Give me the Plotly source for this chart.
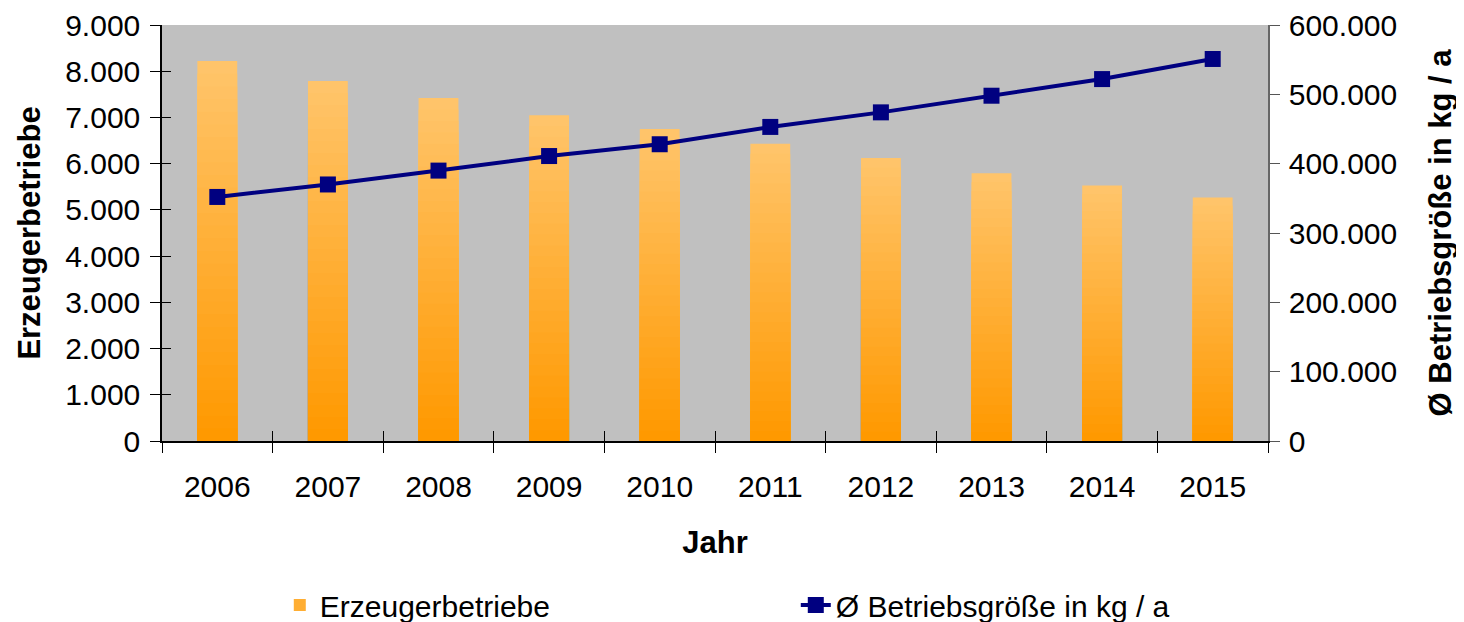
import plotly.graph_objects as go

years = ["2006", "2007", "2008", "2009", "2010", "2011", "2012", "2013", "2014", "2015"]
betriebe = [8220, 7790, 7420, 7050, 6750, 6430, 6120, 5790, 5530, 5270]
groesse = [352000, 370000, 390000, 411000, 428000, 453000, 474000, 498000, 522000, 551000]

FONT = "Liberation Sans, Arial, sans-serif"
top_rgb = (255, 196, 106)
bot_rgb = (255, 153, 0)
N = 30

fig = go.Figure()
# gradient bars via overlaid bars of decreasing height
for k in range(N):
    f = 1 - k / N
    t = k / (N - 1)
    c = tuple(round(top_rgb[i] + (bot_rgb[i] - top_rgb[i]) * t) for i in range(3))
    fig.add_trace(go.Bar(
        x=years, y=[v * f for v in betriebe],
        marker=dict(color="rgb(%d,%d,%d)" % c, line=dict(width=0)),
        name="Erzeugerbetriebe", showlegend=(k == N // 2),
        hoverinfo="skip" if k else None, yaxis="y",
    ))

fig.add_trace(go.Scatter(
    x=years, y=groesse, yaxis="y2", mode="lines+markers",
    name="Ø Betriebsgröße in kg / a",
    line=dict(color="#000080", width=4),
    marker=dict(symbol="square", size=16, color="#000080"),
))

# invisible helper traces so that the inner-tick overlay axes get drawn
fig.add_trace(go.Scatter(
    x=years, y=betriebe, xaxis="x", yaxis="y3", showlegend=False,
    hoverinfo="skip", mode="markers", marker=dict(opacity=0),
))
fig.add_trace(go.Scatter(
    x=years, y=betriebe, xaxis="x2", yaxis="y", showlegend=False,
    hoverinfo="skip", mode="markers", marker=dict(opacity=0),
))

xr = [-0.5, len(years) - 0.5]

fig.update_layout(
    width=1456, height=614,
    margin=dict(l=154, r=196, t=17, b=181, autoexpand=False),
    paper_bgcolor="white", plot_bgcolor="#C0C0C0",
    barmode="overlay", bargap=0.64,
    separators=",.",
    font=dict(family=FONT, size=30, color="black"),
    xaxis=dict(
        type="category", range=xr, tickson="boundaries", ticks="outside", ticklen=10,
        tickcolor="black", showline=True, linecolor="black", linewidth=1.5,
        showgrid=False, tickfont=dict(size=30), ticklabelstandoff=18, automargin=False,
        title=dict(text="<b>Jahr</b>", font=dict(size=31), standoff=30),
    ),
    xaxis2=dict(
        type="category", categoryarray=years, range=xr, overlaying="x", side="bottom",
        anchor="y", tickson="boundaries", ticks="inside", ticklen=10, tickcolor="black",
        showticklabels=False, showline=False, showgrid=False, automargin=False,
    ),
    yaxis=dict(
        range=[0, 9000], dtick=1000, tickformat=",d", ticks="outside", ticklen=10,
        tickcolor="black", showline=True, linecolor="black", linewidth=1.5,
        showgrid=False, zeroline=False, tickfont=dict(size=30), automargin=False,
        ticklabelstandoff=4,
        title=dict(text="<b>Erzeugerbetriebe</b>", font=dict(size=31), standoff=15),
    ),
    yaxis2=dict(
        range=[0, 600000], dtick=100000, tickformat=",d", overlaying="y", side="right",
        ticks="outside", ticklen=10, tickcolor="#555555", showline=True,
        linecolor="#666666", linewidth=1.5, showgrid=False, zeroline=False,
        tickfont=dict(size=30), automargin=False, ticklabelstandoff=3,
        title=dict(text="<b>Ø Betriebsgröße in kg / a</b>", font=dict(size=31), standoff=33),
    ),
    yaxis3=dict(
        range=[0, 9000], dtick=1000, overlaying="y", side="left", anchor="x",
        ticks="inside", ticklen=9, tickcolor="black", showticklabels=False,
        showline=False, showgrid=False, zeroline=False, automargin=False,
    ),
    legend=dict(
        orientation="h", x=0.1065, y=-0.394, xanchor="left", yanchor="middle",
        entrywidth=471, entrywidthmode="pixels", font=dict(size=30),
        bgcolor="rgba(0,0,0,0)",
    ),
)

fig.write_html("out.html")
